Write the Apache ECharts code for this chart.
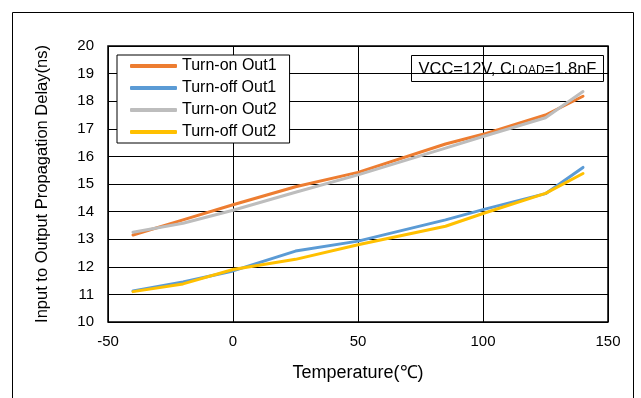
<!DOCTYPE html>
<html>
<head>
<meta charset="utf-8">
<script src="https://cdn.jsdelivr.net/npm/echarts@6/dist/echarts.min.js"></script>
<style>
  html, body { margin: 0; padding: 0; background: #fff; }
  #chart { width: 641px; height: 398px; }
</style>
</head>
<body>
<div id="chart"></div>
<script>
// Temperature points (°C) and propagation delays (ns)
const temperatures = [-40, -20, 0, 25, 50, 85, 100, 125, 140];
const turnOnOut1  = [13.15, 13.70, 14.25, 14.90, 15.42, 16.45, 16.80, 17.50, 18.18];
const turnOffOut1 = [11.12, 11.45, 11.85, 12.57, 12.93, 13.70, 14.07, 14.65, 15.60];
const turnOnOut2  = [13.25, 13.58, 14.05, 14.70, 15.33, 16.30, 16.72, 17.40, 18.35];
const turnOffOut2 = [11.10, 11.38, 11.90, 12.27, 12.80, 13.47, 13.93, 14.66, 15.38];

const seriesNames  = ['Turn-on Out1', 'Turn-off Out1', 'Turn-on Out2', 'Turn-off Out2'];
const seriesData   = [turnOnOut1, turnOffOut1, turnOnOut2, turnOffOut2];
const seriesColors = ['#ED7D31', '#5B9BD5', '#BDBDBD', '#FFC000'];

const FONT = 'Liberation Sans, Arial, sans-serif';

const chart = echarts.init(document.getElementById('chart'), null, { renderer: 'canvas' });

chart.setOption({
  animation: false,
  backgroundColor: '#fff',
  color: seriesColors,
  grid: { left: 108, right: 33, top: 46, bottom: 76, show: true, borderColor: '#000', borderWidth: 1.5, backgroundColor: 'transparent' },
  xAxis: {
    type: 'value', min: -50, max: 150, interval: 50,
    name: 'Temperature(℃)', nameLocation: 'middle', nameGap: 42,
    nameTextStyle: { fontFamily: FONT, fontSize: 18, color: '#000' },
    axisLine: { show: false }, axisTick: { show: false },
    axisLabel: { fontFamily: FONT, fontSize: 15, color: '#000', margin: 12 },
    splitLine: { show: true, lineStyle: { color: '#000', width: 1 } }
  },
  yAxis: {
    type: 'value', min: 10, max: 20, interval: 1,
    name: 'Input to Output Propagation Delay(ns)', nameLocation: 'middle', nameGap: 57,
    nameTextStyle: { fontFamily: FONT, fontSize: 16.5, color: '#000' },
    axisLine: { show: false }, axisTick: { show: false },
    axisLabel: { fontFamily: FONT, fontSize: 15, color: '#000', margin: 14 },
    splitLine: { show: true, lineStyle: { color: '#000', width: 1 } }
  },
  legend: {
    orient: 'vertical', left: 117, top: 55,
    padding: [3, 13, 3, 13], itemGap: 6,
    itemWidth: 47, itemHeight: 4, icon: 'roundRect',
    borderColor: '#000', borderWidth: 1, backgroundColor: '#fff',
    textStyle: { fontFamily: FONT, fontSize: 16, color: '#000', lineHeight: 16 },
    data: seriesNames
  },
  series: seriesNames.map((name, i) => ({
    name: name,
    type: 'line',
    data: temperatures.map((t, j) => [t, seriesData[i][j]]),
    showSymbol: false, symbol: 'none',
    lineStyle: { width: 3, color: seriesColors[i], cap: 'round', join: 'round' },
    itemStyle: { color: seriesColors[i] },
    z: 2 + i
  })),
  graphic: [
    {
      type: 'rect', left: 10, top: 10, silent: true, z: -10,
      shape: { width: 621, height: 400 },
      style: { fill: 'none', stroke: '#000', lineWidth: 1 }
    },
    {
      type: 'group', left: 411, top: 55, z: 100,
      children: [
        { type: 'rect', shape: { x: 0, y: 0, width: 192, height: 26 },
          style: { fill: '#fff', stroke: '#000', lineWidth: 1 } },
        { type: 'text', x: 7, y: 5,
          style: {
            text: 'VCC=12V, C{s|LOAD}=1.8nF',
            fontFamily: FONT, fontSize: 16.5, fill: '#000',
            rich: { s: { fontFamily: FONT, fontSize: 12, fill: '#000', padding: [4, 0, 0, 0] } }
          } }
      ]
    }
  ]
});
</script>
</body>
</html>
